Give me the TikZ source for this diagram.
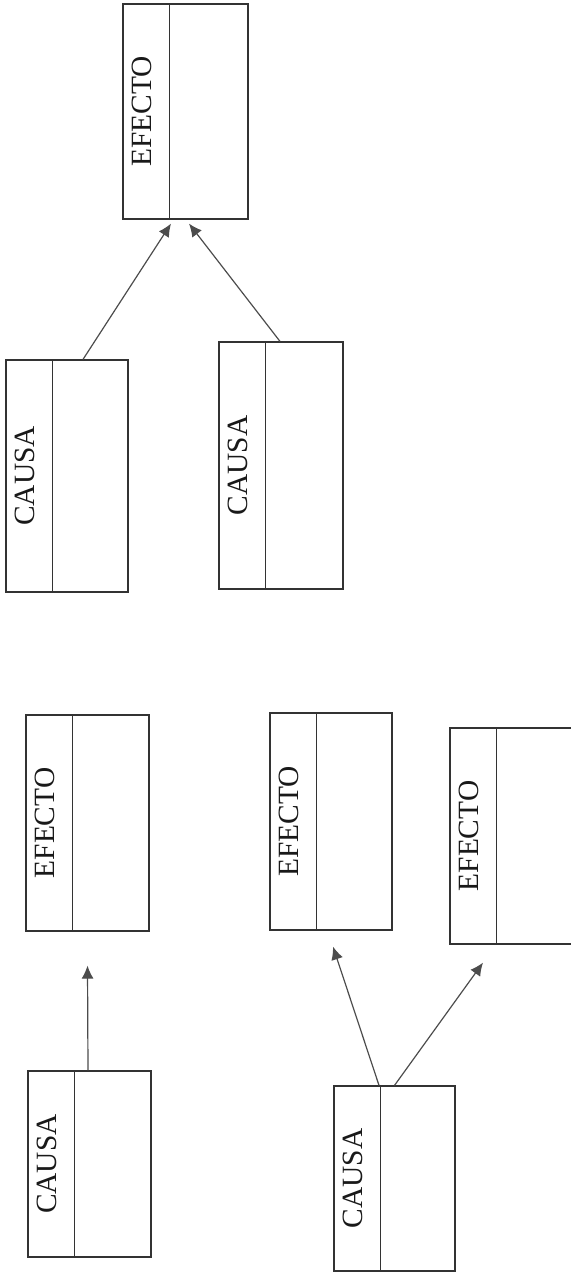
\documentclass[tikz,border=0pt]{standalone}
\usepackage{fontspec}
\setmainfont{Liberation Serif}
\usetikzlibrary{arrows.meta}

\tikzset{
  caja/.style={draw=black!80, line width=0.6pt, rectangle, inner sep=0pt},
  rotulo/.style={rotate=90, inner sep=0pt, text=black!90,
    font=\fontsize{14.7}{17}\selectfont},
  divisor/.style={draw=black!80, line width=0.6pt},
  flecha/.style={draw=black!70, line width=0.6pt,
    -{Latex[length=6.5pt,width=6pt]}}
}

\begin{document}
\begin{tikzpicture}[x=0.5pt, y=-0.5pt]
    \useasboundingbox (0,0) rectangle (571,1273);
    % Dos causas, un efecto
    \node[caja, minimum width=62.5pt, minimum height=107.5pt] (efA) at (185.5,111.5) {};
    \node[caja, minimum width=61pt, minimum height=116pt] (caA) at (67,476) {};
    \node[caja, minimum width=62pt, minimum height=123.5pt] (caB) at (281,465.5) {};
    % Una causa, un efecto
    \node[caja, minimum width=61.5pt, minimum height=108pt] (efB) at (87.5,823) {};
    \node[caja, minimum width=61.5pt, minimum height=93pt] (caC) at (89.5,1164) {};
    % Una causa, dos efectos
    \node[caja, minimum width=61pt, minimum height=108.5pt] (efC) at (331,821.5) {};
    \node[caja, minimum width=66pt, minimum height=108pt] (efD) at (516,836) {};
    \node[caja, minimum width=60.5pt, minimum height=92.5pt] (caD) at (394.5,1178.5) {};
    % Rotulos
    \foreach \b/\t in {efA/EFECTO, caA/CAUSA, caB/CAUSA, efB/EFECTO,
                       caC/CAUSA, efC/EFECTO, efD/EFECTO, caD/CAUSA} {
        \node[rotulo] at ([xshift=9.75pt]\b.west) {\t};
        \draw[divisor] ([xshift=23.5pt]\b.north west) -- ([xshift=23.5pt]\b.south west);
    }
    % Flechas
    \draw[flecha] ([xshift=8pt]caA.north) -- ([xshift=-7.25pt,yshift=-2pt]efA.south);
    \draw[flecha] ([xshift=-0.5pt]caB.north) -- ([xshift=1.75pt,yshift=-2pt]efA.south);
    \draw[flecha] ([xshift=-0.75pt]caC.north) -- ([yshift=-17pt]efB.south);
    \draw[flecha] ([xshift=-7.75pt]caD.north) -- ([xshift=1pt,yshift=-8pt]efC.south);
    \draw[flecha] (caD.north) -- ([xshift=-16.5pt,yshift=-9pt]efD.south);
\end{tikzpicture}
\end{document}
